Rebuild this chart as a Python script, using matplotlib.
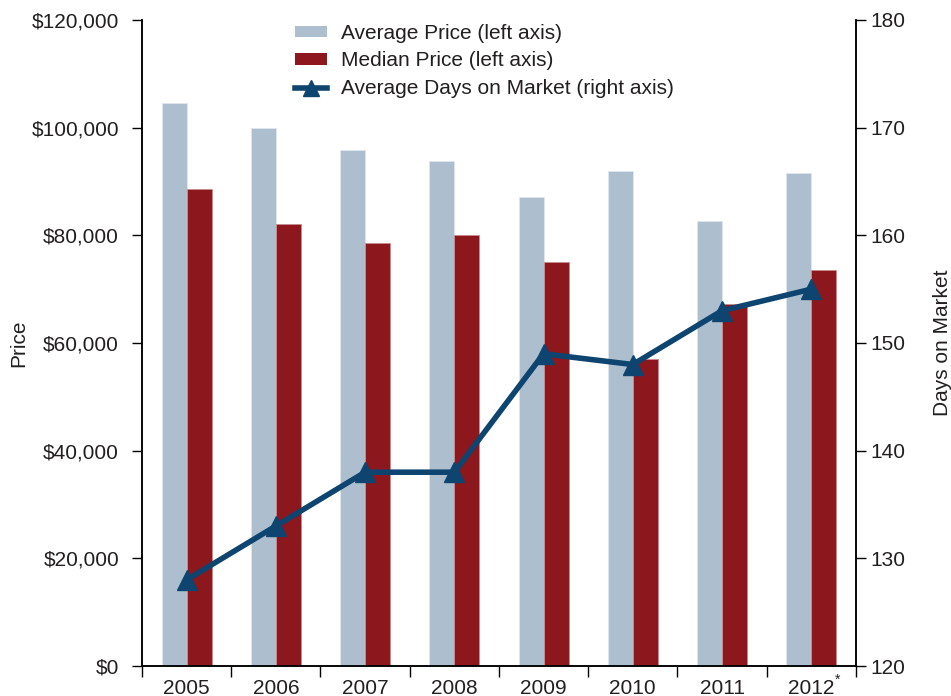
import matplotlib
matplotlib.use("Agg")
import matplotlib.pyplot as plt
from matplotlib.ticker import FixedLocator, StrMethodFormatter
from matplotlib.patches import Patch
from matplotlib.lines import Line2D
from matplotlib.transforms import offset_copy
import numpy as np

plt.rcParams["font.family"] = ["Liberation Sans", "DejaVu Sans"]

years = ["2005", "2006", "2007", "2008", "2009", "2010", "2011", "2012"]
avg_price = [104600, 100000, 95900, 93800, 87100, 92000, 82700, 91600]
median_price = [88600, 82100, 78600, 80100, 75000, 57000, 67300, 73600]
days_on_market = [128, 133, 138, 138, 149, 148, 153, 155]

AVG_C = "#adbfce"
MED_C = "#8c171c"
LINE_C = "#0e4470"
TXT_C = "#231f20"

fig = plt.figure(figsize=(9.51, 6.96), dpi=100)
ax = fig.add_axes([0.1493, 0.0431, 0.7507, 0.9282])
ax2 = ax.twinx()

x = np.arange(len(years))
w = 0.28
ax.bar(x - w / 2, avg_price, w, color=AVG_C, edgecolor="#dfe6ec", linewidth=0.6)
ax.bar(x + w / 2, median_price, w, color=MED_C, edgecolor="#c98a8c", linewidth=0.6)

ax2.plot(x, days_on_market, color=LINE_C, lw=4, marker="^", ms=14,
         solid_capstyle="round")

ax.set_xlim(-0.5, len(years) - 0.5)
ax.set_ylim(0, 120000)
ax2.set_ylim(120, 180)
ax.set_yticks(range(0, 120001, 20000))
ax2.set_yticks(range(120, 181, 10))
ax.yaxis.set_major_formatter(StrMethodFormatter("${x:,.0f}"))

# labels sit at bar-pair centres, tick marks at category boundaries
ax.set_xticks(x)
ax.set_xticklabels(years)
ax.xaxis.set_minor_locator(FixedLocator(np.arange(-0.5, len(years), 1.0)))
ax.tick_params(axis="x", which="major", length=0, pad=9, labelsize=15, labelcolor=TXT_C)
ax.tick_params(axis="x", which="minor", length=8, width=1)
ax.tick_params(axis="y", length=7.5, width=1, labelsize=15, labelcolor=TXT_C, pad=9)
ax2.tick_params(axis="y", length=7.5, width=1, labelsize=15, labelcolor=TXT_C, pad=3)

# footnote marker on the last year
star_tf = offset_copy(ax.get_xaxis_transform(), fig=fig, x=26, y=-14, units="dots")
ax.text(len(years) - 1, 0, "*", transform=star_tf, fontsize=10, color=TXT_C,
        ha="center", va="center")

for a in (ax, ax2):
    a.spines["top"].set_visible(False)
    for s in ("left", "right", "bottom"):
        a.spines[s].set_linewidth(1.1)

ax.set_ylabel("Price", fontsize=15, color=TXT_C, labelpad=2)
ax2.set_ylabel("Days on Market", fontsize=15, color=TXT_C, labelpad=20)

handles = [
    Patch(facecolor=AVG_C, edgecolor="none"),
    Patch(facecolor=MED_C, edgecolor="none"),
    Line2D([], [], color=LINE_C, lw=4, marker="^", ms=11),
]
labels = ["Average Price (left axis)", "Median Price (left axis)",
          "Average Days on Market (right axis)"]
fig.legend(handles, labels, loc="upper left", bbox_to_anchor=(0.291, 0.993),
           frameon=False, fontsize=15, handlelength=1.5, handleheight=0.45,
           handletextpad=0.7, labelspacing=0.42, labelcolor=TXT_C)

fig.savefig("out.png", dpi=100, facecolor="white")
